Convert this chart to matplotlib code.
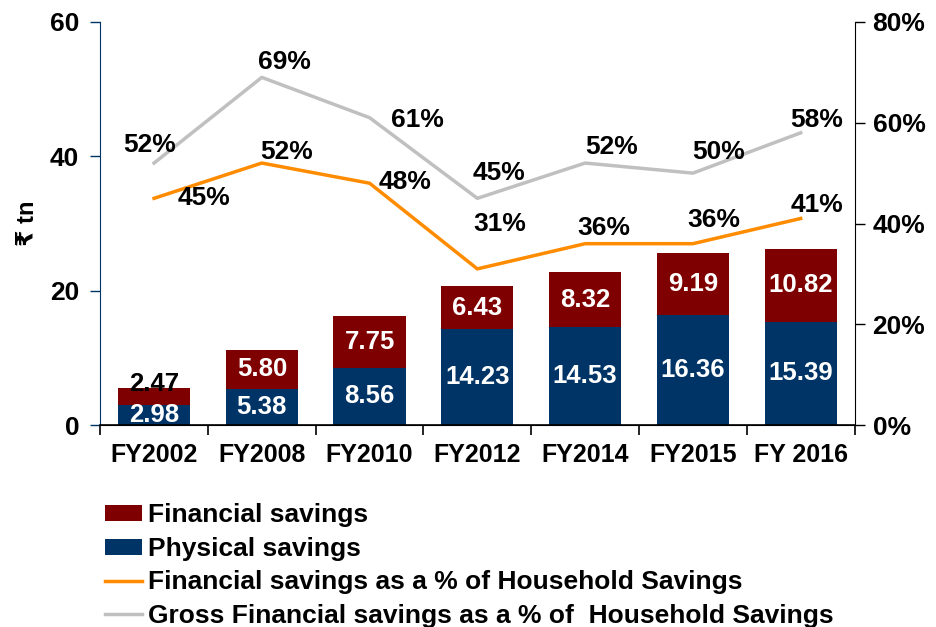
import matplotlib
matplotlib.use("Agg")
import matplotlib.pyplot as plt
import numpy as np
from matplotlib.ticker import FuncFormatter

plt.rcParams['font.family'] = ['Liberation Sans', 'DejaVu Sans']
plt.rcParams['font.weight'] = 'bold'

# data
years = ["FY2002", "FY2008", "FY2010", "FY2012", "FY2014", "FY2015", "FY 2016"]
physical = [2.98, 5.38, 8.56, 14.23, 14.53, 16.36, 15.39]
financial = [2.47, 5.80, 7.75, 6.43, 8.32, 9.19, 10.82]
fin_pct = [45, 52, 48, 31, 36, 36, 41]
gross_pct = [52, 69, 61, 45, 52, 50, 58]

# label offsets in pixels (dx, dy)
gross_off = [(-4, 18), (23, 15), (48, -2), (22, 25), (26, 16), (26, 21), (16, 13)]
fin_off = [(50, 0), (25, 11), (35, 1), (22, 45), (19, 16), (21, 24), (16, 13)]

navy = "#003466"
maroon = "#7F0000"
orange = "#FF8C00"
grey = "#C0C0C0"

fig = plt.figure(figsize=(9.36, 6.27), dpi=100)
ax = fig.add_axes([0.107, 0.322, 0.806, 0.643])
ax2 = ax.twinx()

x = np.arange(len(years))
w = 0.67
b1 = ax.bar(x, physical, w, color=navy, label="Physical savings", zorder=2)
b2 = ax.bar(x, financial, w, bottom=physical, color=maroon, label="Financial savings", zorder=2)

vfs = 18.5
for i in range(len(years)):
    ax.text(x[i], physical[i] / 2, f"{physical[i]:.2f}", ha="center", va="center",
            color="white", fontsize=vfs, fontweight="bold")
    if i == 0:
        ax.text(x[i], physical[i] + financial[i] + 0.7, f"{financial[i]:.2f}", ha="center",
                va="center", color="black", fontsize=vfs, fontweight="bold")
    else:
        ax.text(x[i], physical[i] + financial[i] / 2, f"{financial[i]:.2f}", ha="center",
                va="center", color="white", fontsize=vfs, fontweight="bold")

l1, = ax2.plot(x, fin_pct, color=orange, lw=2.5, label="Financial savings as a % of Household Savings")
l2, = ax2.plot(x, gross_pct, color=grey, lw=2.5, label="Gross Financial savings as a % of  Household Savings")

for i in range(len(years)):
    ax2.annotate(f"{gross_pct[i]}%", (x[i], gross_pct[i]), xytext=gross_off[i],
                 textcoords="offset pixels", ha="center", va="center", fontsize=19, fontweight="bold")
    ax2.annotate(f"{fin_pct[i]}%", (x[i], fin_pct[i]), xytext=fin_off[i],
                 textcoords="offset pixels", ha="center", va="center", fontsize=19, fontweight="bold")

ax.set_xlim(-0.5, len(years) - 0.5)
ax.set_ylim(0, 60)
ax.set_yticks([0, 20, 40, 60])
ax2.set_ylim(0, 80)
ax2.set_yticks([0, 20, 40, 60, 80])
ax2.yaxis.set_major_formatter(FuncFormatter(lambda v, p: f"{int(v)}%"))

ax.set_xticks(x)
ax.set_xticklabels(years, fontsize=18, fontweight="bold")
ax.tick_params(axis="x", which="major", length=0, pad=13)
ax.set_xticks(np.arange(-0.5, len(years)), minor=True)
ax.tick_params(axis="x", which="minor", length=7, width=1.2, direction="out")
ax.tick_params(axis="y", labelsize=19, color=navy, length=7, width=1, pad=8)
ax2.tick_params(axis="y", labelsize=19, length=7, width=1, pad=6)
for lab in ax.get_yticklabels() + ax2.get_yticklabels():
    lab.set_fontweight("bold")

ax.set_ylabel("₹ tn", fontsize=17, fontweight="bold", labelpad=8)

for a in (ax, ax2):
    a.spines["top"].set_visible(False)
ax.spines["left"].set_color(navy)
ax2.spines["left"].set_visible(False)
ax.spines["right"].set_visible(False)
ax2.spines["right"].set_color("black")
ax.spines["bottom"].set_linewidth(1.2)

fig.legend([b2, b1, l1, l2], [b2.get_label(), b1.get_label(), l1.get_label(), l2.get_label()],
           loc="upper left", bbox_to_anchor=(0.112, 0.197), frameon=False, fontsize=19,
           handlelength=1.4, handleheight=0.55, handletextpad=0.25, labelspacing=0.36,
           borderaxespad=0, borderpad=0)

fig.savefig("out.png", dpi=100)
